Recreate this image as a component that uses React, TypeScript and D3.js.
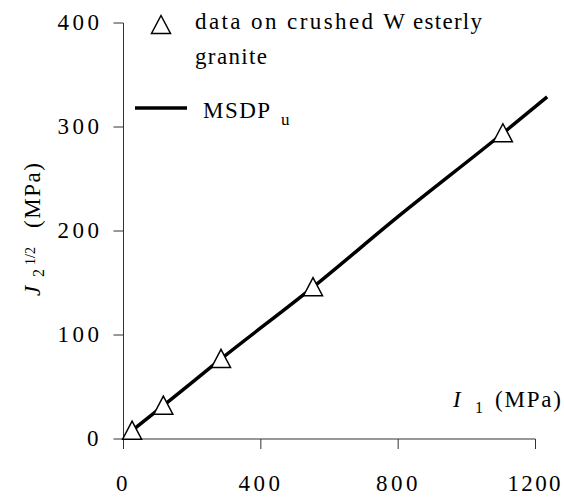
import React from "react";
import * as d3 from "d3";

const xTicks = [0, 400, 800, 1200];
const yTicks = [0, 100, 200, 300, 400];
const dataI1 = [25, 116, 284, 552, 1105];
const dataJ2 = [8, 32, 77, 146, 294];
const msdpI1 = [25, 116, 284, 552, 804, 1105, 1234];
const msdpJ2 = [8, 32, 77, 146, 215, 294, 329];

const W = 564;
const H = 498;
const FONT = '"Liberation Serif"';
const digitW = (n: number) => {
  const k = String(n).length;
  return k === 1 ? 12 : k === 3 ? 41.5 : 53;
};

export default function App() {
  const x = d3.scaleLinear().domain([0, 1200]).range([123.5, 535.5]);
  const y = d3.scaleLinear().domain([0, 400]).range([439, 23]);
  const line = d3
    .line<number>()
    .x((_, i) => x(msdpI1[i]))
    .y((d) => y(d))
    .curve(d3.curveMonotoneX);
  const triPath = "M0,-9.5L9.5,8.5L-9.5,8.5Z";
  const ts = { fontFamily: FONT } as React.CSSProperties;
  const tsi = { fontFamily: FONT, fontStyle: "italic" } as React.CSSProperties;

  return (
    <svg width={W} height={H} style={{ position: "absolute", left: 0, top: 0, background: "#fff" }}>
      {/* axes */}
      <line x1={x(0)} x2={x(1200)} y1={y(0)} y2={y(0)} stroke="#333" strokeWidth={1} />
      <line x1={x(0)} x2={x(0)} y1={y(0)} y2={y(400)} stroke="#333" strokeWidth={1} />
      {yTicks.map((t) => (
        <g key={"y" + t}>
          <line x1={x(0) - 10} x2={x(0)} y1={y(t)} y2={y(t)} stroke="#333" strokeWidth={1} />
          <text
            x={99 - digitW(t)}
            y={y(t) + 7}
            fontSize={23}
            textLength={digitW(t)}
            lengthAdjust="spacing"
            style={ts}
          >
            {t}
          </text>
        </g>
      ))}
      {xTicks.map((t) => (
        <g key={"x" + t}>
          <line x1={x(t)} x2={x(t)} y1={y(0)} y2={y(0) + 10} stroke="#333" strokeWidth={1} />
          <text
            x={x(t) - 1.5 - digitW(t) / 2}
            y={491}
            fontSize={23}
            textLength={digitW(t)}
            lengthAdjust="spacing"
            style={ts}
          >
            {t}
          </text>
        </g>
      ))}

      {/* MSDP line */}
      <path d={line(msdpJ2) || ""} fill="none" stroke="#000" strokeWidth={3.5} />

      {/* data triangles */}
      {dataI1.map((v, i) => (
        <path
          key={"p" + i}
          d={triPath}
          transform={`translate(${x(v)},${y(dataJ2[i])})`}
          fill="#fff"
          stroke="#000"
          strokeWidth={1.5}
        />
      ))}

      {/* legend */}
      <path d={triPath} transform="translate(161,25)" fill="#fff" stroke="#000" strokeWidth={1.5} />
      <text x={195} y={29} fontSize={23} textLength={210} lengthAdjust="spacing" style={ts}>
        data on crushed W
      </text>
      <text x={413} y={29} fontSize={23} textLength={69} lengthAdjust="spacing" style={ts}>
        esterly
      </text>
      <text x={195} y={64} fontSize={23} textLength={72} lengthAdjust="spacing" style={ts}>
        granite
      </text>
      <line x1={135} x2={187} y1={108} y2={108} stroke="#000" strokeWidth={3.5} />
      <text x={203} y={118} fontSize={23} textLength={67} lengthAdjust="spacing" style={ts}>
        MSDP
      </text>
      <text x={281} y={125} fontSize={17} style={ts}>
        u
      </text>

      {/* x axis title */}
      <text x={453} y={407} fontSize={23} style={tsi}>
        I
      </text>
      <text x={475} y={413} fontSize={16} style={ts}>
        1
      </text>
      <text x={495} y={407} fontSize={23} textLength={66} lengthAdjust="spacing" style={ts}>
        (MPa)
      </text>

      {/* y axis title */}
      <g transform="translate(39.5,0) rotate(-90)">
        <text x={-296} y={0} fontSize={23} style={tsi}>
          J
        </text>
        <text x={-277} y={4} fontSize={16} style={ts}>
          2
        </text>
        <text x={-265} y={-4.5} fontSize={14} style={ts}>
          1/2
        </text>
        <text x={-228} y={0} fontSize={23} textLength={65} lengthAdjust="spacing" style={ts}>
          (MPa)
        </text>
      </g>
    </svg>
  );
}
